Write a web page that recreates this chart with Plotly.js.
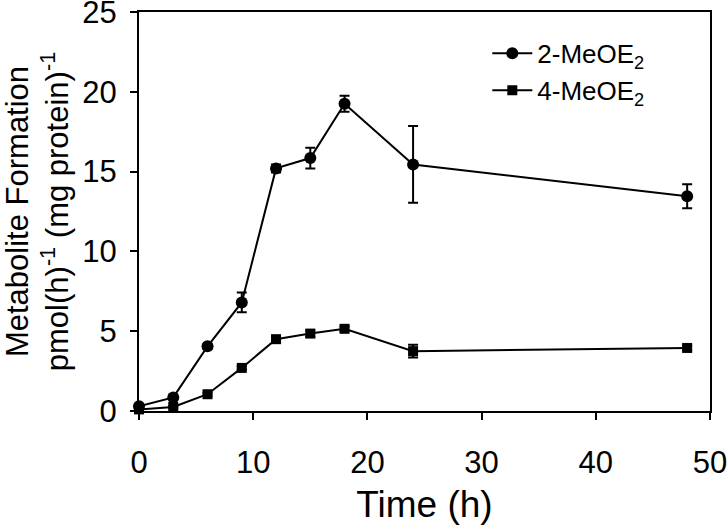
<!DOCTYPE html>
<html>
<head>
<meta charset="utf-8">
<script src="https://cdn.plot.ly/plotly-3.0.1.min.js"></script>
<style>
  html, body { margin: 0; padding: 0; background: #fff; }
  #chart { width: 727px; height: 525px; }
</style>
</head>
<body>
<div id="chart"></div>
<script>
// time points (h)
const hours = [0, 3, 6, 9, 12, 15, 18, 24, 48];

// 2-MeOE2 formation and SD
const meo2 = [0.3, 0.85, 4.05, 6.8, 15.2, 15.85, 19.25, 15.45, 13.45];
const meo2Err = [0.1, 0.1, 0.15, 0.62, 0.25, 0.65, 0.5, 2.4, 0.75];

// 4-MeOE2 formation and SD
const meo4 = [0.1, 0.25, 1.05, 2.7, 4.5, 4.85, 5.15, 3.75, 3.95];
const meo4Err = [0.05, 0.05, 0.1, 0.1, 0.15, 0.2, 0.15, 0.4, 0.15];

const FONT = "Liberation Sans, Arial, sans-serif";

const makeTrace = (y, err, name, symbol, size) => ({
  x: hours,
  y: y,
  name: name,
  type: "scatter",
  mode: "lines+markers",
  cliponaxis: false,
  line: { color: "#000", width: 2 },
  marker: { color: "#000", size: size, symbol: symbol },
  error_y: {
    type: "data",
    array: err,
    visible: true,
    color: "#000",
    thickness: 2,
    width: 5,
  },
});

const traces = [
  makeTrace(meo2, meo2Err, "2-MeOE<sub>2</sub>", "circle", 12),
  makeTrace(meo4, meo4Err, "4-MeOE<sub>2</sub>", "square", 10),
];

const axisBase = {
  showline: true,
  linecolor: "#000",
  linewidth: 2,
  mirror: true,
  showgrid: false,
  zeroline: false,
  ticks: "outside",
  ticklen: 7,
  tickwidth: 2,
  tickcolor: "#000",
  ticklabeloverflow: "allow",
  tickfont: { family: FONT, size: 31, color: "#000" },
};

const layout = {
  width: 727,
  height: 525,
  paper_bgcolor: "#fff",
  plot_bgcolor: "#fff",
  font: { family: FONT, color: "#000" },
  margin: { l: 139, r: 17, t: 12, b: 114 },
  showlegend: true,
  legend: {
    x: 0.61,
    y: 0.955,
    xanchor: "left",
    yanchor: "top",
    bgcolor: "rgba(0,0,0,0)",
    font: { family: FONT, size: 26, color: "#000" },
    itemwidth: 40,
    tracegroupgap: 6,
  },
  xaxis: {
    ...axisBase,
    range: [0, 50],
    tickvals: [0, 10, 20, 30, 40, 50],
    ticklabelstandoff: 16,
    title: { text: "Time (h)", font: { family: FONT, size: 37, color: "#000" }, standoff: 14 },
  },
  yaxis: {
    ...axisBase,
    range: [0, 25],
    tickvals: [0, 5, 10, 15, 20, 25],
    ticklabelstandoff: 7,
    title: {
      text: "Metabolite Formation<br>pmol(h)<sup>-1</sup> (mg protein)<sup>-1</sup>",
      font: { family: FONT, size: 31, color: "#000" },
      standoff: 4,
    },
  },
};

Plotly.newPlot("chart", traces, layout, { displayModeBar: false, staticPlot: true });
</script>
</body>
</html>
